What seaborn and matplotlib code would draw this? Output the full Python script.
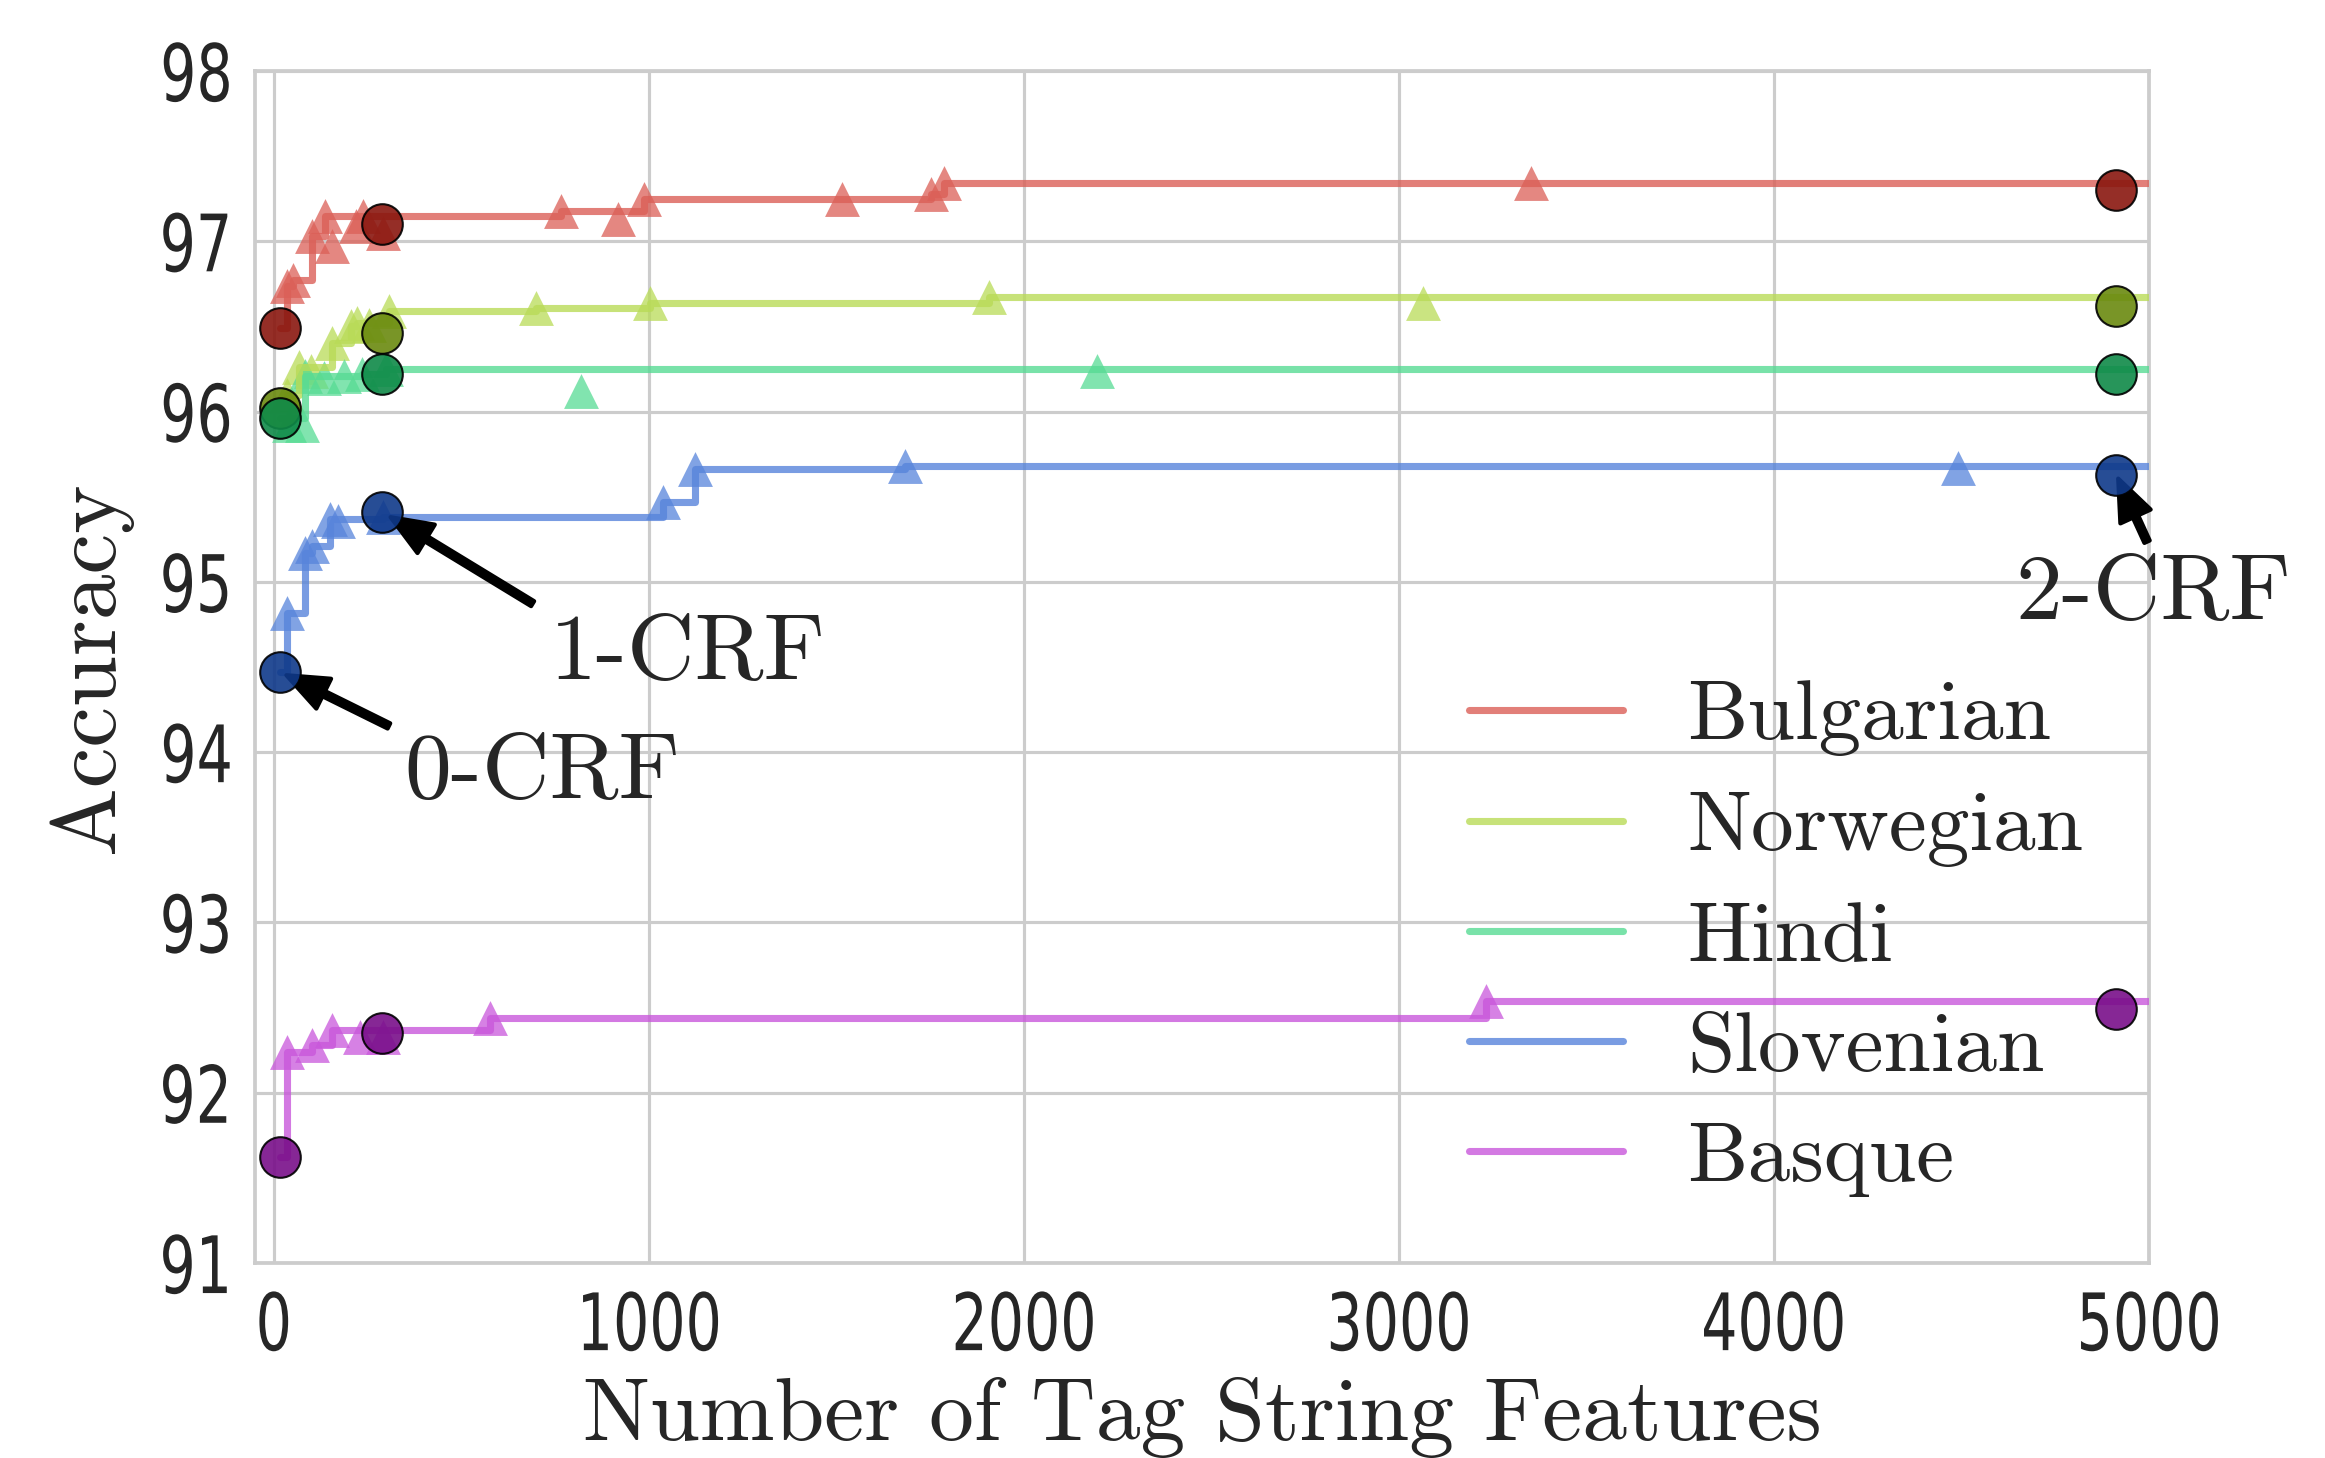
from __future__ import annotations

import matplotlib
matplotlib.use("Agg")
import matplotlib.pyplot as plt
import numpy as np
import pandas as pd
import seaborn as sns
from matplotlib import patheffects
from matplotlib.transforms import Affine2D

# number of tag string features for the 0-, 1- and 2-CRF models
crf_features = [17, 289, 4913]
x_end = 5000

languages = ["Bulgarian", "Norwegian", "Hindi", "Slovenian", "Basque"]

# intermediate models (triangles)
bulgarian_x = [36, 52, 103, 137, 156, 219, 238, 290, 767, 918, 988, 1514, 1753, 1786, 3351]
bulgarian_acc = [96.74, 96.77, 97.03, 97.15, 96.97, 97.09, 97.15, 97.05, 97.18, 97.13, 97.25, 97.25, 97.28, 97.34, 97.34]
norwegian_x = [36, 67, 100, 154, 205, 221, 254, 308, 698, 1004, 1906, 3063]
norwegian_acc = [96.10, 96.26, 96.24, 96.40, 96.50, 96.52, 96.51, 96.59, 96.61, 96.64, 96.67, 96.64]
hindi_x = [40, 76, 84, 133, 187, 236, 300, 818, 2196]
hindi_acc = [95.92, 95.92, 96.21, 96.20, 96.21, 96.22, 96.25, 96.12, 96.24]
slovenian_x = [36, 84, 102, 150, 172, 290, 1039, 1124, 1684, 4492]
slovenian_acc = [94.82, 95.17, 95.21, 95.37, 95.36, 95.38, 95.47, 95.66, 95.68, 95.67]
basque_x = [36, 102, 156, 231, 290, 577, 3232]
basque_acc = [92.24, 92.28, 92.37, 92.33, 92.33, 92.44, 92.54]

# accuracy of the 0-, 1- and 2-CRF models (circles)
bulgarian_crf = [96.49, 97.10, 97.30]
norwegian_crf = [96.02, 96.46, 96.62]
hindi_crf = [95.96, 96.22, 96.22]
slovenian_crf = [94.47, 95.41, 95.63]
basque_crf = [91.62, 92.35, 92.49]

SERIF = "cmr10"


class Squeeze(patheffects.AbstractPathEffect):
    """Narrow the glyphs horizontally (the tick font in the original is condensed)."""

    def __init__(self, sx, anchor):
        super().__init__()
        self.sx = sx
        self.anchor = anchor

    def draw_path(self, renderer, gc, tpath, affine, rgbFace=None):
        ext = tpath.get_extents()
        cx = ext.x0 + self.anchor * (ext.x1 - ext.x0)
        squeeze = Affine2D().translate(-cx, 0).scale(self.sx, 1).translate(cx, 0)
        renderer.draw_path(gc, tpath, squeeze + affine, rgbFace)


def best_so_far(tri_x, tri_acc, crf_acc):
    xs = np.array([crf_features[0]] + list(tri_x))
    ys = np.array([crf_acc[0]] + list(tri_acc))
    order = np.argsort(xs, kind="stable")
    xs, ys = xs[order], np.maximum.accumulate(ys[order])
    return pd.DataFrame({"x": np.append(xs, x_end), "acc": np.append(ys, ys[-1])})


def main() -> None:
    sns.set_theme(style="whitegrid")
    plt.rcParams["font.family"] = ["DejaVu Sans"]
    plt.rcParams["axes.edgecolor"] = "#cccccc"
    plt.rcParams["grid.color"] = "#cccccc"

    light = sns.hls_palette(5)
    dark = sns.hls_palette(5, l=0.3, s=0.8)

    series = [
        (bulgarian_x, bulgarian_acc, bulgarian_crf),
        (norwegian_x, norwegian_acc, norwegian_crf),
        (hindi_x, hindi_acc, hindi_crf),
        (slovenian_x, slovenian_acc, slovenian_crf),
        (basque_x, basque_acc, basque_crf),
    ]

    fig = plt.figure(figsize=(7.75, 4.86), dpi=300)
    ax = fig.add_axes([0.1097, 0.1337, 0.8146, 0.8176])

    for i, (name, (tx, ta, ca)) in enumerate(zip(languages, series)):
        steps = best_so_far(tx, ta, ca)
        sns.lineplot(data=steps, x="x", y="acc", ax=ax, color=light[i], alpha=0.8,
                     lw=1.7, drawstyle="steps-post", estimator=None, sort=False,
                     label=name, zorder=3)
        sns.scatterplot(x=tx, y=ta, ax=ax, marker="^", s=70, color=light[i],
                        alpha=0.75, linewidth=0, legend=False, zorder=2)
        sns.scatterplot(x=crf_features, y=ca, ax=ax, marker="o", s=95, color=dark[i],
                        alpha=0.9, edgecolor="black", linewidth=0.5, legend=False,
                        zorder=4)

    ax.set_xlim(-50, x_end)
    ax.set_ylim(91, 98)
    ax.set_xticks(range(0, 5001, 1000))
    ax.set_yticks(range(91, 99))
    ax.tick_params(axis="both", labelsize=19, length=0)
    ax.tick_params(axis="y", pad=5)
    ax.tick_params(axis="x", pad=6.5)
    for lbl in ax.get_xticklabels():
        lbl.set_path_effects([Squeeze(0.72, 0.5)])
    for lbl in ax.get_yticklabels():
        lbl.set_path_effects([Squeeze(0.72, 1.0)])
    for s in ax.spines.values():
        s.set_linewidth(0.9)
    ax.grid(lw=0.75)

    ax.set_xlabel("Number of Tag String Features", family=SERIF, fontsize=21.5, labelpad=2.5)
    ax.set_ylabel("Accuracy", family=SERIF, fontsize=22)
    ax.yaxis.set_label_coords(-0.065, 0.5)

    arrow = dict(facecolor="black", edgecolor="black", shrink=0.05,
                 width=1.4, headwidth=8, headlength=10)
    sl = slovenian_crf
    ax.annotate("0-CRF", xy=(crf_features[0], sl[0]), xytext=(347, 93.73),
                family=SERIF, fontsize=22.5, arrowprops=arrow)
    ax.annotate("1-CRF", xy=(crf_features[1], sl[1]), xytext=(736, 94.43),
                family=SERIF, fontsize=22.5, arrowprops=arrow)
    ax.annotate("2-CRF", xy=(crf_features[2], sl[2]), xytext=(4643, 94.78),
                family=SERIF, fontsize=22.5, arrowprops=arrow)

    leg = ax.legend(loc="lower right", frameon=False, prop={"family": SERIF, "size": 20.5},
                    labelspacing=0.4, handlelength=1.8, handletextpad=0.75,
                    borderaxespad=0.37)
    for line in leg.get_lines():
        line.set_linewidth(1.7)

    fig.savefig("out.png", dpi=300)
    plt.close(fig)


if __name__ == "__main__":
    main()
